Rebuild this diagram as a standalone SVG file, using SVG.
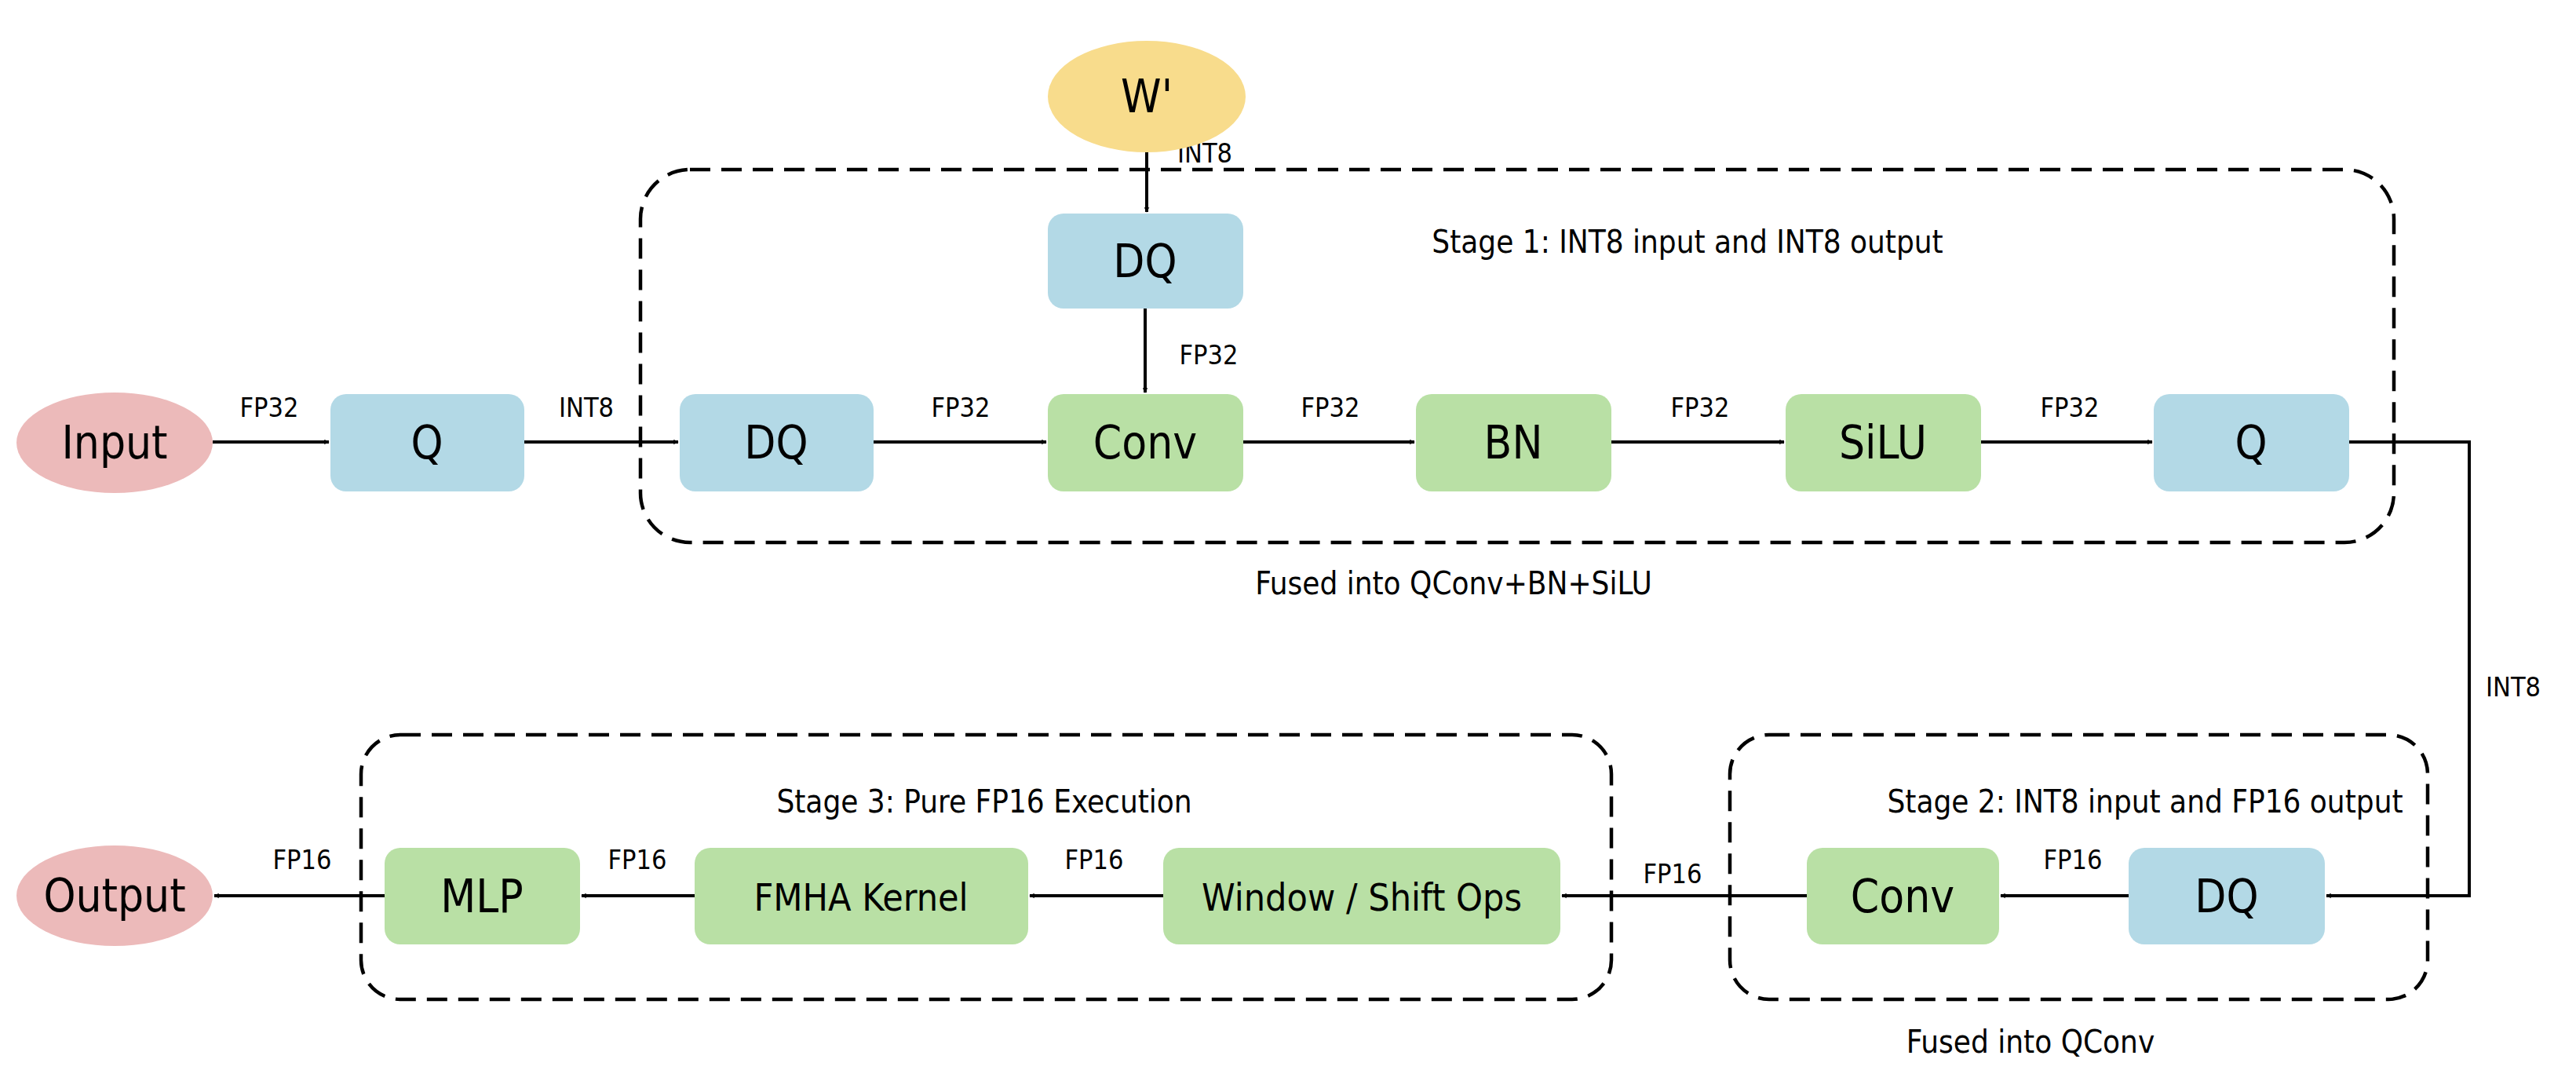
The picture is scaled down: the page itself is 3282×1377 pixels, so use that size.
<svg xmlns="http://www.w3.org/2000/svg" width="3282" height="1377" viewBox="0 0 3282 1377">
<style>
text{font-family:"DejaVu Sans Condensed","DejaVu Sans",sans-serif;fill:#000;text-anchor:middle}
.n{font-size:58px}
.l{font-size:34px}
.t{font-size:40px}
.b{fill:#b3d9e6}
.g{fill:#b9e0a5}
.st{fill:none;stroke:#000;stroke-width:4.5;stroke-dasharray:26 14}
.c{fill:none;stroke:#000;stroke-width:4;marker-end:url(#a)}
</style>
<defs><marker id="a" viewBox="0 0 20 20" refX="18" refY="10" markerWidth="7" markerHeight="7" markerUnits="userSpaceOnUse" orient="auto"><path d="M0,0 L20,10 L0,20 L6,10 Z"/></marker></defs>
<rect width="3282" height="1377" fill="#fff"/>
<g id="stages">
<rect class="st" x="816" y="216" width="2234" height="475" rx="63"/>
<rect class="st" x="2204" y="936" width="889" height="337" rx="50"/>
<rect class="st" x="460" y="936" width="1593" height="337" rx="50"/>
<text class="t" x="2150" y="322">Stage 1: INT8 input and INT8 output</text>
<text class="t" x="1852" y="757">Fused into QConv+BN+SiLU</text>
<text class="t" x="2733" y="1035">Stage 2: INT8 input and FP16 output</text>
<text class="t" x="2587" y="1341">Fused into QConv</text>
<text class="t" x="1254" y="1035">Stage 3: Pure FP16 Execution</text>
</g>
<g id="connectors">
<path class="c" d="M271,563 H419"/>
<path class="c" d="M668,563 H864"/>
<path class="c" d="M1113,563 H1333"/>
<path class="c" d="M1584,563 H1802"/>
<path class="c" d="M2053,563 H2273"/>
<path class="c" d="M2524,563 H2742"/>
<path class="c" d="M1461,194 V270"/>
<path class="c" d="M1459,393 V500"/>
<path class="c" d="M2993,563 H3146 V1141 H2964"/>
<path class="c" d="M2712,1141 H2549"/>
<path class="c" d="M2302,1141 H1990"/>
<path class="c" d="M1482,1141 H1312"/>
<path class="c" d="M885,1141 H741"/>
<path class="c" d="M490,1141 H273"/>
<g class="l">
<text class="l" x="343" y="531">FP32</text>
<text class="l" x="747" y="531">INT8</text>
<text class="l" x="1224" y="531">FP32</text>
<text class="l" x="1695" y="531">FP32</text>
<text class="l" x="2166" y="531">FP32</text>
<text class="l" x="2637" y="531">FP32</text>
<text class="l" x="1540" y="464">FP32</text>
<text class="l" x="1535" y="207">INT8</text>
<text class="l" x="3202" y="887">INT8</text>
<text class="l" x="2641" y="1107">FP16</text>
<text class="l" x="2131" y="1125">FP16</text>
<text class="l" x="1394" y="1107">FP16</text>
<text class="l" x="812" y="1107">FP16</text>
<text class="l" x="385" y="1107">FP16</text>
</g>
</g>
<g id="W"><ellipse cx="1461" cy="123" rx="126" ry="71" fill="#f8dc8c"/><text class="n" x="1461" y="143">W'</text></g>
<g id="input"><ellipse cx="146" cy="564" rx="125" ry="64" fill="#ecbaba"/><text class="n" x="146" y="584">Input</text></g>
<g id="q1"><rect class="b" x="421" y="502" width="247" height="124" rx="20"/><text class="n" x="544" y="584">Q</text></g>
<g id="dq1"><rect class="b" x="866" y="502" width="247" height="124" rx="20"/><text class="n" x="989" y="584">DQ</text></g>
<g id="dqw"><rect class="b" x="1335" y="272" width="249" height="121" rx="20"/><text class="n" x="1459" y="353">DQ</text></g>
<g id="conv1"><rect class="g" x="1335" y="502" width="249" height="124" rx="20"/><text class="n" x="1459" y="584">Conv</text></g>
<g id="bn"><rect class="g" x="1804" y="502" width="249" height="124" rx="20"/><text class="n" x="1928" y="584">BN</text></g>
<g id="silu"><rect class="g" x="2275" y="502" width="249" height="124" rx="20"/><text class="n" x="2399" y="584">SiLU</text></g>
<g id="q2"><rect class="b" x="2744" y="502" width="249" height="124" rx="20"/><text class="n" x="2868" y="584">Q</text></g>
<g id="dq2"><rect class="b" x="2712" y="1080" width="250" height="123" rx="20"/><text class="n" x="2837" y="1162">DQ</text></g>
<g id="conv2"><rect class="g" x="2302" y="1080" width="245" height="123" rx="20"/><text class="n" x="2424" y="1162">Conv</text></g>
<g id="window"><rect class="g" x="1482" y="1080" width="506" height="123" rx="20"/><text class="n" x="1735" y="1160" style="font-size:48px">Window / Shift Ops</text></g>
<g id="fmha"><rect class="g" x="885" y="1080" width="425" height="123" rx="20"/><text class="n" x="1097" y="1160" style="font-size:48px">FMHA Kernel</text></g>
<g id="mlp"><rect class="g" x="490" y="1080" width="249" height="123" rx="20"/><text class="n" x="614" y="1162">MLP</text></g>
<g id="output"><ellipse cx="146" cy="1141" rx="125" ry="64" fill="#ecbaba"/><text class="n" x="146" y="1161">Output</text></g>
</svg>
